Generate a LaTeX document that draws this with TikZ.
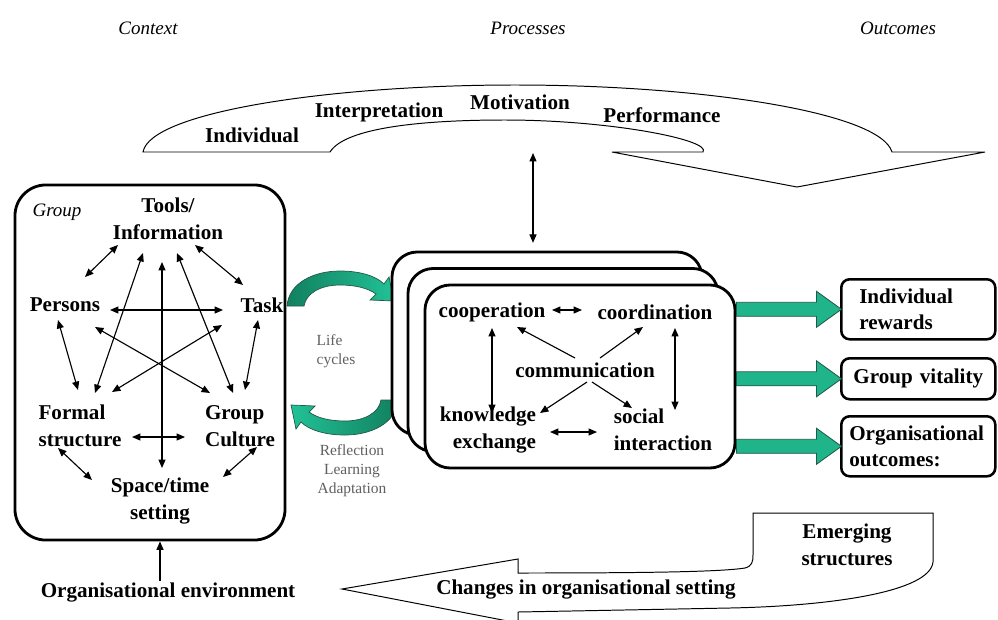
\documentclass[tikz,border=0pt]{standalone}
\usepackage{fontspec}
\setmainfont{Liberation Serif}
\usepackage{xcolor}
\definecolor{cyclegreen}{HTML}{22C196}
\definecolor{cycledark}{HTML}{11805F}
\definecolor{blockgreen}{HTML}{20B48B}
\definecolor{arrowedge}{HTML}{245848}
\usepackage{tikz}
\usetikzlibrary{arrows.meta,positioning}

\begin{document}
\begin{tikzpicture}[x=0.025cm, y=-0.025cm,
                   lbl/.style={font=\fontsize{15}{19}\selectfont\bfseries, inner sep=1pt, align=center},
                   heading/.style={font=\fontsize{13.5}{16}\selectfont\itshape},
                   note/.style={font=\fontsize{11}{13.5}\selectfont, text=gray!75!black, inner sep=0pt},
                   link/.style={{Triangle[length=6pt,width=5pt]}-{Triangle[length=6pt,width=5pt]}, line width=0.8pt},
                   push/.style={-{Triangle[length=6pt,width=5pt]}, line width=0.8pt},
                   frame/.style={draw, line width=2pt, rounded corners=18pt, fill=white, inner sep=0pt},
                   outbox/.style={draw, line width=1.8pt, rounded corners=6pt, anchor=north west,
                                  minimum width=3.85cm, font=\fontsize{15}{19}\selectfont\bfseries},
                   hollow/.style={draw, line width=0.7pt, fill=white},
                   blockarrow/.style={fill=blockgreen, draw=arrowedge, line width=0.6pt},
                   cycleshade/.style={left color=cycledark, right color=cyclegreen},
                   lifearrow/.pic={
                     \path[draw=arrowedge, line width=0.5pt, cycleshade]
                       (287,306) .. controls (289,282) and (315,271) .. (340,271)
                       .. controls (360,271) and (376,276) .. (384,284) -- (389,277) -- (394,301)
                       -- (370,300) -- (376,294) .. controls (368,288) and (355,285) .. (340,285)
                       .. controls (321,285) and (306,293) .. (304,306) -- cycle;}]
    \useasboundingbox (0,0) rectangle (998,619);
    \fill[white] (0,0) rectangle (998,619);

    % column headings
    \node[heading] (ctx)  at (148,28) {Context};
    \node[heading] (proc) at (528,28) {Processes};
    \node[heading] (outc) at (898,28) {Outcomes};

    % individual level: curved arrow on top
    \draw[hollow] (143,152) .. controls (150,112) and (330,85) .. (515,85)
        .. controls (700,85) and (880,112) .. (892,152) -- (985,152) -- (797,187) -- (612,152)
        -- (703,152) .. controls (712,140) and (610,120) .. (505,120)
        .. controls (420,120) and (345,128) .. (330,152) -- cycle;
    \node[lbl] (indiv)  at (252,135) {Individual};
    \node[lbl] (interp) at (379,112) {Interpretation};
    \node[lbl] (motiv)  at (520,102) {Motivation};
    \node[lbl] (perf)   at (662,115) {Performance};
    \coordinate (perfarc) at (533,153);

    % group context
    \node[frame, rounded corners=22pt, minimum width=6.75cm, minimum height=8.875cm] (groupbox) at (150,362.5) {};
    \node[heading] (groupname) at (57,212) {Group};
    \node[lbl] (info)    at (168,219) {Tools/\\Information};
    \node[lbl] (persons) at (65,305)  {Persons};
    \node[lbl] (task)    at (262,305) {Task};
    \node[lbl, align=left] (formal)  at (80,426)  {Formal\\structure};
    \node[lbl, align=left] (culture) at (240,426) {Group\\Culture};
    \node[lbl] (space)   at (160,501) {Space/time\\setting};

    \draw[link] ([shift={(-50,26)}]info.center) -- ([shift={(20,-28)}]persons.center);
    \draw[link] ([shift={(27,26)}]info.center) -- ([shift={(-19,-20)}]task.center);
    \draw[link] ([shift={(45,5)}]persons.center) -- ([shift={(-39,5)}]task.center);
    \draw[link] ([shift={(-7,15)}]persons.center) -- ([shift={(-2,-36)}]formal.center);
    \draw[link] ([shift={(-4,15)}]task.center) -- ([shift={(5,-36)}]culture.center);
    \draw[link] ([shift={(-25,34)}]info.center) -- ([shift={(15,-33)}]formal.center);
    \draw[link] ([shift={(9,34)}]info.center) -- ([shift={(-7,-33)}]culture.center);
    \draw[link] ([shift={(-6,43)}]info.center) -- ([shift={(2,-33)}]space.center);
    \draw[link] ([shift={(30,22)}]persons.center) -- ([shift={(-30,-33)}]culture.center);
    \draw[link] ([shift={(-40,20)}]task.center) -- ([shift={(32,-34)}]formal.center);
    \draw[link] ([shift={(52,11)}]formal.center) -- ([shift={(-55,11)}]culture.center);
    \draw[link] ([shift={(-22,22)}]formal.center) -- ([shift={(-68,-21)}]space.center);
    \draw[link] ([shift={(17,21)}]culture.center) -- ([shift={(63,-24)}]space.center);

    \node[lbl] (orgenv) at (168,592) {Organisational environment};
    \draw[push] (orgenv.north -| space) -- (space |- groupbox.south);

    % life cycles between group and processes
    \pic at (0,0) {lifearrow};
    \pic[rotate=180, cycleshade/.style={left color=cyclegreen, right color=cycledark}] at (685,706) {lifearrow};
    \node[note, align=left]   (life)    at (336,351) {Life\\cycles};
    \node[note, align=center] (reflect) at (352,471) {Reflection\\Learning\\Adaptation};

    % stacked process boxes
    \node[frame, minimum width=7.75cm, minimum height=4.575cm] (back)   at (547,343.5) {};
    \node[frame, minimum width=7.75cm, minimum height=4.575cm] (middle) at (563,360)   {};
    \node[frame, minimum width=7.75cm, minimum height=4.575cm] (front)  at (580,376.5) {};
    \draw[link, shorten >=5.5pt] (perfarc) -- (perfarc |- back.north);

    \node[lbl] (coop)   at (492,312) {cooperation};
    \node[lbl] (coord)  at (655,312) {coordination};
    \node[lbl] (comm)   at (585,370) {communication};
    \node[lbl, align=right] (know)   at (488,430) {knowledge\\exchange};
    \node[lbl, align=left]  (social) at (663,430) {social\\interaction};

    \draw[link] ([shift={(60,-2)}]coop.center) -- ([shift={(-73,-2)}]coord.center);
    \draw[link] ([shift={(0,16)}]coop.center) -- ([shift={(4,-17)}]know.center);
    \draw[link] ([shift={(20,16)}]coord.center) -- ([shift={(12,-20)}]social.center);
    \draw[push] ([shift={(-10,-12)}]comm.center) -- ([shift={(25,15)}]coop.center);
    \draw[push] ([shift={(15,-12)}]comm.center) -- ([shift={(-12,15)}]coord.center);
    \draw[push] ([shift={(2,12)}]comm.center) -- ([shift={(52,-17)}]know.center);
    \draw[push] ([shift={(7,12)}]comm.center) -- ([shift={(-31,-22)}]social.center);
    \draw[link] ([shift={(62,2)}]know.center) -- ([shift={(-66,2)}]social.center);

    % outcomes
    \node[outbox, minimum height=1.5cm, inner xsep=0.45cm, text width=2.95cm, align=left] (rewards) at (840,278) {Individual\\rewards};
    \node[outbox, minimum height=1.025cm, inner xsep=0.3cm, text width=3.25cm, align=center] (vitality) at (840,357) {Group vitality};
    \node[outbox, minimum height=1.5cm, inner xsep=0.2cm, text width=3.45cm, align=left] (orgout) at (840,415) {Organisational\\outcomes:};

    \filldraw[blockarrow] (front.east |- rewards.west) ++(0,-7) -- ++(80,0) -- ++(0,-11) -- ++(25,18) -- ++(-25,18) -- ++(0,-11) -- ++(-80,0) -- cycle;
    \filldraw[blockarrow] (front.east |- vitality.west) ++(0,-7) -- ++(80,0) -- ++(0,-11) -- ++(25,18) -- ++(-25,18) -- ++(0,-11) -- ++(-80,0) -- cycle;
    \filldraw[blockarrow] (front.east |- orgout.west) ++(0,-7) -- ++(80,0) -- ++(0,-11) -- ++(25,18) -- ++(-25,18) -- ++(0,-11) -- ++(-80,0) -- cycle;

    % feedback into the organisation
    \draw[hollow] (342,589) -- (518,559) -- (518,573) .. controls (640,573) and (720,572) .. (745,568)
        .. controls (752,566) and (753,562) .. (753,555) -- (753,513) -- (933,513) -- (933,562)
        .. controls (930,592) and (830,606) .. (730,608) -- (518,612) -- (518,623) -- cycle;
    \node[lbl] (emerge)  at (847,545) {Emerging\\structures};
    \node[lbl] (changes) at (586,589) {Changes in organisational setting};
\end{tikzpicture}
\end{document}
